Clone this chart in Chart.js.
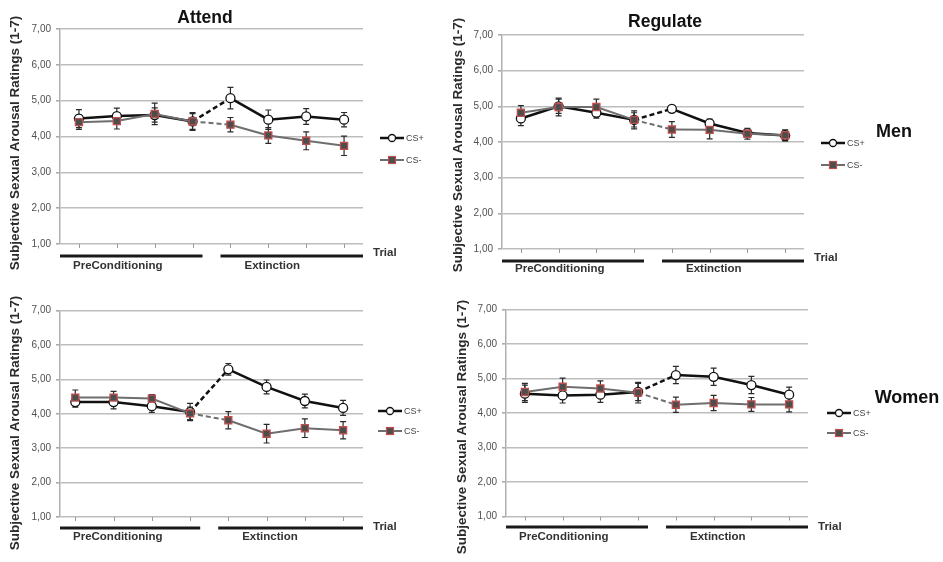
<!DOCTYPE html>
<html>
<head>
<meta charset="utf-8">
<script src="https://cdn.jsdelivr.net/npm/chart.js@4.4.1/dist/chart.umd.min.js"></script>
<style>
  body { margin: 0; background: #fff; }
  #wrap { position: relative; width: 943px; height: 562px; overflow: hidden; }
  canvas { position: absolute; }
</style>
</head>
<body>
<div id="wrap">
  <canvas id="c1" width="470" height="280" style="left:0;top:0"></canvas>
  <canvas id="c2" width="523" height="280" style="left:420px;top:0"></canvas>
  <canvas id="c3" width="470" height="282" style="left:0;top:280px"></canvas>
  <canvas id="c4" width="523" height="282" style="left:420px;top:280px"></canvas>
</div>
<script>
// ---- data ----
const trials = [1, 2, 3, 4, 5, 6, 7, 8];
const yTickLabels = ['1,00', '2,00', '3,00', '4,00', '5,00', '6,00', '7,00'];
const seriesNames = ['CS+', 'CS-'];
const phaseLabels = ['PreConditioning', 'Extinction'];
const conditionTitles = ['Attend', 'Regulate'];
const groupNames = ['Men', 'Women'];
const yTitle = 'Subjective Sexual Arousal Ratings (1-7)';

// Men - Attend
const menAttendPlus = [4.50, 4.57, 4.60, 4.42, 5.07, 4.47, 4.56, 4.47];
const menAttendMinus = [4.40, 4.43, 4.63, 4.42, 4.33, 4.03, 3.88, 3.74];
const menAttendPlusErr = [0.25, 0.22, 0.20, 0.22, 0.30, 0.27, 0.22, 0.20];
const menAttendMinusErr = [0.20, 0.22, 0.30, 0.25, 0.20, 0.22, 0.25, 0.27];
// Men - Regulate
const menRegulatePlus = [4.66, 5.00, 4.82, 4.62, 4.93, 4.52, 4.25, 4.18];
const menRegulateMinus = [4.82, 4.98, 4.98, 4.62, 4.35, 4.34, 4.23, 4.19];
const menRegulatePlusErr = [0.20, 0.20, 0.15, 0.20, 0.10, 0.12, 0.10, 0.15];
const menRegulateMinusErr = [0.20, 0.25, 0.22, 0.25, 0.22, 0.25, 0.15, 0.15];
// Women - Attend
const womenAttendPlus = [4.34, 4.34, 4.22, 4.05, 5.29, 4.78, 4.37, 4.17];
const womenAttendMinus = [4.47, 4.47, 4.44, 4.01, 3.81, 3.42, 3.58, 3.52];
const womenAttendPlusErr = [0.15, 0.20, 0.18, 0.25, 0.17, 0.20, 0.20, 0.22];
const womenAttendMinusErr = [0.22, 0.18, 0.12, 0.18, 0.25, 0.27, 0.27, 0.25];
// Women - Regulate
const womenRegulatePlus = [4.56, 4.51, 4.53, 4.61, 5.10, 5.05, 4.81, 4.53];
const womenRegulateMinus = [4.61, 4.76, 4.71, 4.59, 4.24, 4.29, 4.25, 4.25];
const womenRegulatePlusErr = [0.25, 0.22, 0.22, 0.25, 0.25, 0.25, 0.25, 0.22];
const womenRegulateMinusErr = [0.25, 0.25, 0.22, 0.30, 0.22, 0.22, 0.20, 0.22];

const FONT = "'Liberation Sans', Arial, sans-serif";
const PLUS_COLOR = '#111111';
const MINUS_COLOR = '#6e6e6e';
const MINUS_FILL = '#4d4d4d';
const MINUS_EDGE = '#c0504d';

// layout of each panel (canvas-relative pixels)
const panels = [
  { id: 'c1', plus: menAttendPlus, minus: menAttendMinus, plusErr: menAttendPlusErr, minusErr: menAttendMinusErr,
    pad: { left: 0, top: 29, right: 107, bottom: 36 }, axisW: 60, xMin: 0.5, xMax: 8.5,
    title: conditionTitles[0], titleX: 205, titleY: 18, yTitleX: 15, yTitleY: 143,
    barY: 256, labelY: 266, trialY: 253, legendX: 380, legendY: [138, 160], group: null },
  { id: 'c2', plus: menRegulatePlus, minus: menRegulateMinus, plusErr: menRegulatePlusErr, minusErr: menRegulateMinusErr,
    pad: { left: 0, top: 35, right: 139, bottom: 31 }, axisW: 82, xMin: 0.5, xMax: 8.5,
    title: conditionTitles[1], titleX: 245, titleY: 22, yTitleX: 38, yTitleY: 145,
    barY: 261, labelY: 269, trialY: 258, legendX: 401, legendY: [143, 165],
    group: groupNames[0], groupX: 474, groupY: 132 },
  { id: 'c3', plus: womenAttendPlus, minus: womenAttendMinus, plusErr: womenAttendPlusErr, minusErr: womenAttendMinusErr,
    pad: { left: 0, top: 30.5, right: 107, bottom: 45 }, axisW: 60, xMin: 0.6, xMax: 8.52,
    title: null, yTitleX: 15, yTitleY: 143,
    barY: 248, labelY: 257, trialY: 247, legendX: 378, legendY: [131, 151], group: null },
  { id: 'c4', plus: womenRegulatePlus, minus: womenRegulateMinus, plusErr: womenRegulatePlusErr, minusErr: womenRegulateMinusErr,
    pad: { left: 0, top: 29.5, right: 135, bottom: 45.5 }, axisW: 86, xMin: 0.5, xMax: 8.5,
    title: null, yTitleX: 42, yTitleY: 147,
    barY: 247, labelY: 257, trialY: 247, legendX: 407, legendY: [133, 153],
    group: groupNames[1], groupX: 487, groupY: 118 }
];

function drawMarker(ctx, kind, x, y) {
  if (kind === 0) {
    ctx.beginPath();
    ctx.arc(x, y, 3.5, 0, Math.PI * 2);
    ctx.fillStyle = '#fff';
    ctx.fill();
    ctx.lineWidth = 1.3;
    ctx.strokeStyle = PLUS_COLOR;
    ctx.stroke();
  } else {
    ctx.fillStyle = MINUS_FILL;
    ctx.fillRect(x - 3.5, y - 3.5, 7, 7);
    ctx.lineWidth = 1.2;
    ctx.strokeStyle = MINUS_EDGE;
    ctx.strokeRect(x - 3.5, y - 3.5, 7, 7);
  }
}

function makeDecor(p) {
  return {
    id: 'decor_' + p.id,
    beforeDatasetsDraw(chart) {
      const ctx = chart.ctx;
      const xs = chart.scales.x, ys = chart.scales.y;
      ctx.save();
      ctx.strokeStyle = '#2a2a2a';
      ctx.lineWidth = 1.2;
      chart.data.datasets.forEach(ds => {
        ds.data.forEach((pt, i) => {
          const e = ds.errors[i];
          const x = xs.getPixelForValue(pt.x);
          const y1 = ys.getPixelForValue(pt.y + e);
          const y2 = ys.getPixelForValue(pt.y - e);
          ctx.beginPath();
          ctx.moveTo(x, y1); ctx.lineTo(x, y2);
          ctx.moveTo(x - 3, y1); ctx.lineTo(x + 3, y1);
          ctx.moveTo(x - 3, y2); ctx.lineTo(x + 3, y2);
          ctx.stroke();
        });
      });
      ctx.restore();
    },
    afterDraw(chart) {
      const ctx = chart.ctx;
      const a = chart.chartArea;
      const xs = chart.scales.x;
      ctx.save();

      // x tick marks
      ctx.strokeStyle = '#9a9a9a';
      ctx.lineWidth = 1;
      trials.forEach(t => {
        const x = Math.round(xs.getPixelForValue(t)) + 0.5;
        ctx.beginPath();
        ctx.moveTo(x, a.bottom);
        ctx.lineTo(x, a.bottom + 4);
        ctx.stroke();
      });

      // phase bars + labels
      const mid = xs.getPixelForValue(4.5);
      ctx.strokeStyle = '#1a1a1a';
      ctx.lineWidth = 3;
      ctx.beginPath();
      ctx.moveTo(a.left, p.barY); ctx.lineTo(mid - 9, p.barY);
      ctx.moveTo(mid + 9, p.barY); ctx.lineTo(a.right, p.barY);
      ctx.stroke();
      ctx.fillStyle = '#333';
      ctx.font = 'bold 11.5px ' + FONT;
      ctx.textAlign = 'left';
      ctx.textBaseline = 'middle';
      ctx.fillText(phaseLabels[0], a.left + 13, p.labelY);
      ctx.fillText(phaseLabels[1], mid + 33, p.labelY);
      ctx.fillText('Trial', a.right + 10, p.trialY);

      // y-axis title
      ctx.save();
      ctx.translate(p.yTitleX, p.yTitleY);
      ctx.rotate(-Math.PI / 2);
      ctx.textAlign = 'center';
      ctx.font = 'bold 13.5px ' + FONT;
      ctx.fillStyle = '#2b2b2b';
      ctx.fillText(yTitle, 0, 0);
      ctx.restore();

      // panel title
      if (p.title) {
        ctx.textAlign = 'center';
        ctx.font = 'bold 17.5px ' + FONT;
        ctx.fillStyle = '#111';
        ctx.fillText(p.title, p.titleX, p.titleY);
      }
      // group label
      if (p.group) {
        ctx.textAlign = 'center';
        ctx.font = 'bold 18px ' + FONT;
        ctx.fillStyle = '#111';
        ctx.fillText(p.group, p.groupX, p.groupY);
      }

      // legend
      seriesNames.forEach((name, k) => {
        const y = p.legendY[k];
        ctx.strokeStyle = k === 0 ? PLUS_COLOR : MINUS_COLOR;
        ctx.lineWidth = k === 0 ? 2.5 : 2;
        ctx.beginPath();
        ctx.moveTo(p.legendX, y);
        ctx.lineTo(p.legendX + 24, y);
        ctx.stroke();
        drawMarker(ctx, k, p.legendX + 12, y);
        ctx.textAlign = 'left';
        ctx.font = '9px ' + FONT;
        ctx.fillStyle = '#444';
        ctx.fillText(name, p.legendX + 26, y + 0.5);
      });
      ctx.restore();
    }
  };
}

function dashMid(ctx) {
  return ctx.p0DataIndex === 3 ? [5, 3] : undefined;
}

panels.forEach(p => {
  const toPoints = vals => trials.map((t, i) => ({ x: t, y: vals[i] }));
  new Chart(document.getElementById(p.id).getContext('2d'), {
    type: 'line',
    data: {
      datasets: [
        {
          label: seriesNames[0],
          data: toPoints(p.plus),
          errors: p.plusErr,
          borderColor: PLUS_COLOR,
          borderWidth: 2.5,
          pointStyle: 'circle',
          pointRadius: 4.5,
          pointBackgroundColor: '#fff',
          pointBorderColor: PLUS_COLOR,
          pointBorderWidth: 1.3,
          tension: 0,
          order: 1,
          segment: { borderDash: dashMid }
        },
        {
          label: seriesNames[1],
          data: toPoints(p.minus),
          errors: p.minusErr,
          borderColor: MINUS_COLOR,
          borderWidth: 2,
          pointStyle: 'rect',
          pointRadius: 5,
          pointBackgroundColor: MINUS_FILL,
          pointBorderColor: MINUS_EDGE,
          pointBorderWidth: 1.3,
          tension: 0,
          order: 0,
          segment: { borderDash: dashMid }
        }
      ]
    },
    options: {
      responsive: false,
      animation: false,
      devicePixelRatio: 1,
      layout: { padding: p.pad },
      plugins: {
        legend: { display: false },
        tooltip: { enabled: false },
        title: { display: false }
      },
      scales: {
        x: { type: 'linear', display: false, min: p.xMin, max: p.xMax },
        y: {
          type: 'linear',
          min: 1,
          max: 7,
          afterFit: scale => { scale.width = p.axisW; },
          ticks: {
            stepSize: 1,
            padding: 5,
            color: '#505050',
            font: { family: FONT, size: 10 },
            callback: v => yTickLabels[v - 1]
          },
          grid: { color: '#bdbdbd', lineWidth: 1.6, tickLength: 4, tickColor: '#aaaaaa' },
          border: { display: true, color: '#b0b0b0', width: 1.5 }
        }
      }
    },
    plugins: [makeDecor(p)]
  });
});
</script>
</body>
</html>
